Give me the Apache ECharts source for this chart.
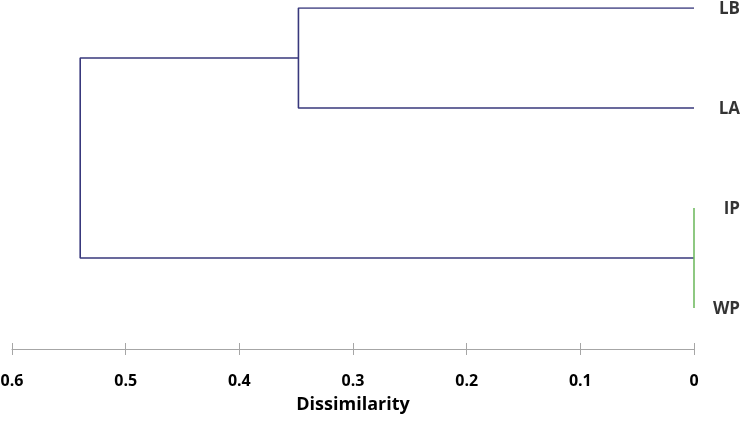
<!DOCTYPE html>
<html>
<head>
<meta charset="utf-8">
<script src="https://cdn.jsdelivr.net/npm/echarts@6/dist/echarts.min.js"></script>
<style>html,body{margin:0;padding:0;background:#fff;}#c{width:742px;height:439px;}</style>
</head>
<body>
<div id="c"></div>
<script>
// Leaves (top to bottom)
const leaves = ['LB', 'LA', 'IP', 'WP'];
// Merges: [left member, right member, height (dissimilarity)]
const merges = [
  ['LB', 'LA', 0.348],
  ['IP', 'WP', 0.0],
  ['M1', 'M2', 0.540]
];
const mergeNames = ['M1', 'M2', 'M3'];
const xTicks = [0, 0.1, 0.2, 0.3, 0.4, 0.5, 0.6];

const navy = '#38387c';
const green = '#72bb62';

const pos = {};
leaves.forEach((l, i) => { pos[l] = { y: i, h: 0 }; });
const segs = [];
merges.forEach((m, i) => {
  const a = pos[m[0]], b = pos[m[1]], h = m[2];
  const color = h === 0 ? green : navy;
  const d = [];
  if (h > 0) {
    d.push([a.h, a.y], [h, a.y], [h, b.y], [b.h, b.y]);
  } else {
    d.push([h, a.y], [h, b.y]);
  }
  segs.push({ data: d, color: color });
  pos[mergeNames[i]] = { y: (a.y + b.y) / 2, h: h };
});

const series = segs.map(s => ({
  type: 'line', data: s.data, symbol: 'none', animation: false,
  lineStyle: { color: s.color, width: 1.6 }, z: s.color === green ? 3 : 2
}));
series.push({
  type: 'scatter', data: leaves.map((l, i) => [0, i]), symbolSize: 0, animation: false,
  label: {
    show: true, position: 'right', distance: 46, align: 'right', offset: [0, 1],
    formatter: p => leaves[p.dataIndex],
    fontFamily: 'Open Sans', fontWeight: 'bold', fontSize: 17, color: '#000'
  }
});

const gridBox = { left: 12, right: 48, top: 8, height: 341, outerBoundsMode: 'none', containLabel: false };

const chart = echarts.init(document.getElementById('c'));
chart.setOption({
  backgroundColor: '#fff',
  grid: [Object.assign({}, gridBox), Object.assign({}, gridBox)],
  xAxis: [
    {
      gridIndex: 0, type: 'value', inverse: true, min: 0, max: 0.6, interval: 0.1,
      position: 'bottom', splitLine: { show: false },
      axisLine: { show: true, onZero: false, lineStyle: { color: '#a6a6a6', width: 1 } },
      axisTick: { show: true, length: 6, inside: false, lineStyle: { color: '#a6a6a6' } },
      axisLabel: {
        margin: 24, fontFamily: 'Open Sans', fontWeight: 'bold', fontSize: 16, color: '#000',
        formatter: v => String(+v.toFixed(1))
      },
      name: 'Dissimilarity', nameLocation: 'middle', nameGap: 47,
      nameTextStyle: { fontFamily: 'Open Sans', fontWeight: 'bold', fontSize: 18, color: '#000' }
    },
    {
      gridIndex: 1, type: 'value', inverse: true, min: 0, max: 0.6, interval: 0.1,
      position: 'bottom', splitLine: { show: false },
      axisLine: { show: false, onZero: false },
      axisTick: { show: true, length: 6, inside: true, lineStyle: { color: '#a6a6a6' } },
      axisLabel: { show: false }
    }
  ],
  yAxis: [
    { gridIndex: 0, type: 'value', inverse: true, min: 0, max: 3.41, show: false },
    { gridIndex: 1, type: 'value', inverse: true, min: 0, max: 3.41, show: false }
  ],
  series: series
});
</script>
</body>
</html>
